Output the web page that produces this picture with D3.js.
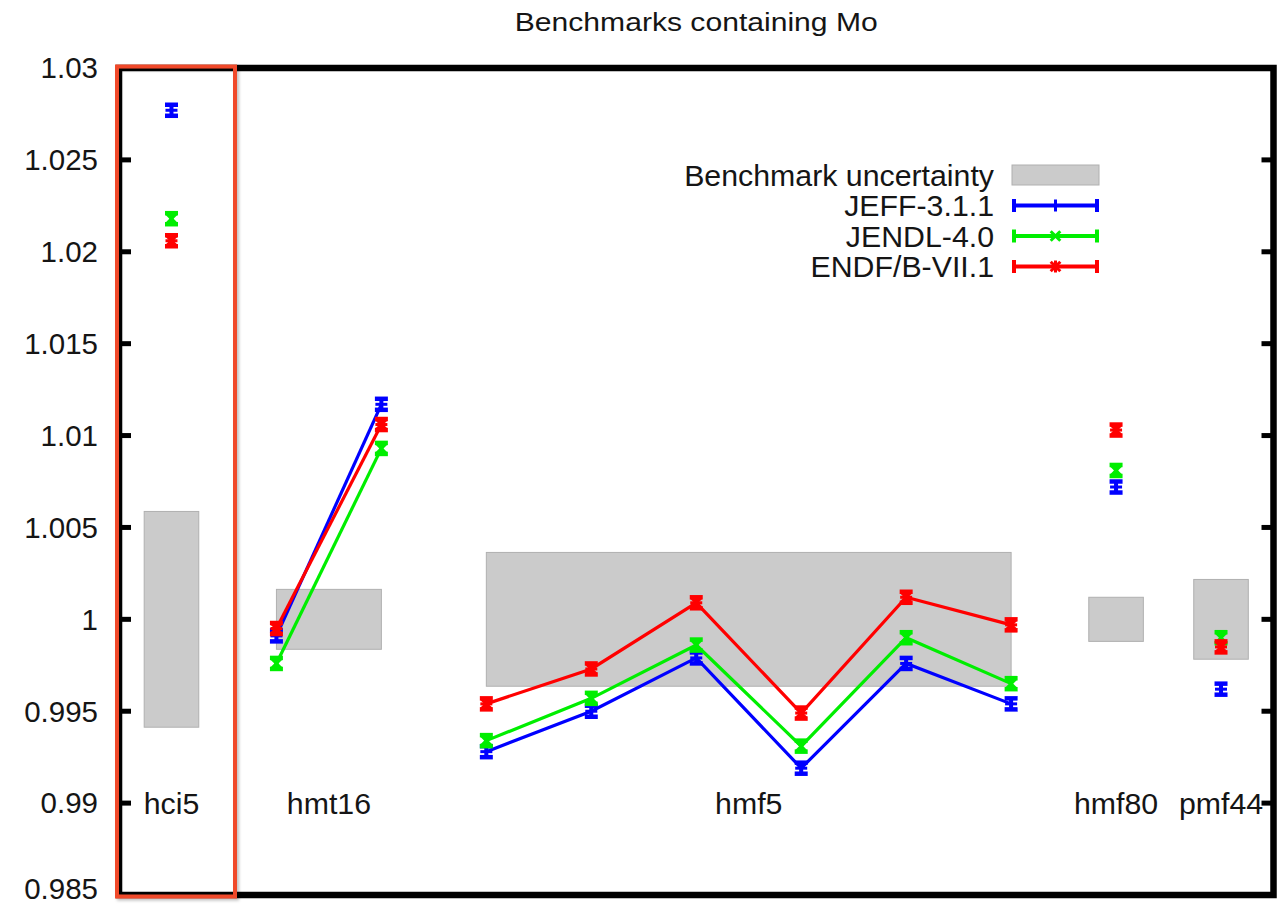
<!DOCTYPE html>
<html>
<head>
<meta charset="utf-8">
<script src="https://cdn.jsdelivr.net/npm/d3@7"></script>
<style>
  body { margin: 0; background: #fff; }
  svg { display: block; }
  text { font-family: "Liberation Sans", Arial, Helvetica, sans-serif; fill: #151515; }
</style>
</head>
<body>
<svg id="chart" width="1281" height="906"></svg>
<script>
// Benchmark cases (x index 0..10) and calculated k-eff per nuclear data library
const caseIndex = [0, 1, 2, 3, 4, 5, 6, 7, 8, 9, 10];

const jeffValues  = [1.0277, 0.9991, 1.0117, 0.9928, 0.9950, 0.9979, 0.9919, 0.9976, 0.9954, 1.0072, 0.9962];
const jendlValues = [1.0218, 0.9976, 1.0093, 0.9934, 0.9957, 0.9986, 0.9931, 0.9990, 0.9965, 1.0081, 0.9990];
const endfValues  = [1.0206, 0.9995, 1.0106, 0.9954, 0.9973, 1.0009, 0.9949, 1.0012, 0.9997, 1.0103, 0.9985];

const jeffErrors  = [0.0003, 0.0003, 0.0003, 0.0003, 0.0003, 0.0003, 0.0003, 0.0003, 0.0003, 0.0003, 0.0003];
const jendlErrors = [0.0003, 0.0003, 0.0003, 0.0003, 0.0003, 0.0003, 0.0003, 0.0003, 0.0003, 0.0003, 0.0003];
const endfErrors  = [0.0003, 0.0003, 0.0003, 0.0003, 0.0003, 0.0003, 0.0003, 0.0003, 0.0003, 0.0003, 0.0003];

// Benchmark groups: first and last case index, experimental uncertainty
const benchmarkNames  = ["hci5", "hmt16", "hmf5", "hmf80", "pmf44"];
const benchmarkFirst  = [0, 1, 3, 9, 10];
const benchmarkLast   = [0, 2, 8, 9, 10];
const benchmarkUncert = [0.00587, 0.00163, 0.00364, 0.0012, 0.00217];

const seriesNames  = ["JEFF-3.1.1", "JENDL-4.0", "ENDF/B-VII.1"];
const seriesColors = ["#0000ff", "#00ee00", "#ff0000"];
const seriesMarks  = ["plus", "cross", "star"];

const yTicks = [0.985, 0.99, 0.995, 1.0, 1.005, 1.01, 1.015, 1.02, 1.025, 1.03];

const svg = d3.select("#chart");

const x = d3.scaleLinear().domain([-0.5, 10.5]).range([119, 1273.5]);
const y = d3.scaleLinear().domain([0.985, 1.03]).range([895, 68]);

const tickFont = 29.5;
const labelFont = 30.3;

// Title
svg.append("text")
  .attr("x", (x.range()[0] + x.range()[1]) / 2)
  .attr("y", 31)
  .attr("text-anchor", "middle")
  .attr("font-size", 26)
  .attr("textLength", 363)
  .attr("lengthAdjust", "spacingAndGlyphs")
  .text("Benchmarks containing Mo");

// Benchmark uncertainty boxes
const boxes = svg.append("g");
benchmarkNames.forEach((name, i) => {
  const single = benchmarkFirst[i] === benchmarkLast[i];
  const x0 = single ? benchmarkFirst[i] - 0.26 : benchmarkFirst[i];
  const x1 = single ? benchmarkLast[i] + 0.26 : benchmarkLast[i];
  boxes.append("rect")
    .attr("x", x(x0))
    .attr("y", y(1 + benchmarkUncert[i]))
    .attr("width", x(x1) - x(x0))
    .attr("height", y(1 - benchmarkUncert[i]) - y(1 + benchmarkUncert[i]))
    .attr("fill", "#cbcbcb")
    .attr("stroke", "#b0b0b0")
    .attr("stroke-width", 1);
});

// Benchmark labels
benchmarkNames.forEach((name, i) => {
  svg.append("text")
    .attr("x", x((benchmarkFirst[i] + benchmarkLast[i]) / 2))
    .attr("y", y(0.99) + 10.5)
    .attr("text-anchor", "middle")
    .attr("font-size", labelFont)
    .text(name);
});

// Marker glyphs
function drawMark(g, kind, cx, cy, color, r) {
  const segs = [];
  if (kind === "plus" || kind === "star") {
    segs.push([cx - r, cy, cx + r, cy], [cx, cy - r, cx, cy + r]);
  }
  if (kind === "cross" || kind === "star") {
    const d = r * 0.8;
    segs.push([cx - d, cy - d, cx + d, cy + d], [cx - d, cy + d, cx + d, cy - d]);
  }
  segs.forEach(s => g.append("line")
    .attr("x1", s[0]).attr("y1", s[1]).attr("x2", s[2]).attr("y2", s[3])
    .attr("stroke", color).attr("stroke-width", 3));
}

// Series: connecting lines within each benchmark, then error bars and markers
const allValues = [jeffValues, jendlValues, endfValues];
const allErrors = [jeffErrors, jendlErrors, endfErrors];
const line = d3.line().x(d => x(d[0])).y(d => y(d[1]));

allValues.forEach((vals, s) => {
  const g = svg.append("g");
  const color = seriesColors[s];
  benchmarkNames.forEach((name, b) => {
    if (benchmarkLast[b] > benchmarkFirst[b]) {
      const pts = caseIndex
        .filter(k => k >= benchmarkFirst[b] && k <= benchmarkLast[b])
        .map(k => [k, vals[k]]);
      g.append("path")
        .attr("d", line(pts))
        .attr("fill", "none")
        .attr("stroke", color)
        .attr("stroke-width", 3.2)
        .attr("stroke-linejoin", "miter");
    }
  });
  caseIndex.forEach(k => {
    const cx = x(k);
    const yHi = y(vals[k] + allErrors[s][k]);
    const yLo = y(vals[k] - allErrors[s][k]);
    g.append("line").attr("x1", cx).attr("x2", cx).attr("y1", yHi).attr("y2", yLo)
      .attr("stroke", color).attr("stroke-width", 4);
    [yHi, yLo].forEach(cy => g.append("line")
      .attr("x1", cx - 6.5).attr("x2", cx + 6.5).attr("y1", cy).attr("y2", cy)
      .attr("stroke", color).attr("stroke-width", 4.5));
    drawMark(g, seriesMarks[s], cx, y(vals[k]), color, 6);
  });
});

// Legend
const legendTextX = 994;
const legendRowY = [175, 205.5, 236, 266.5];
const sampleX0 = 1012, sampleX1 = 1099;
svg.append("text")
  .attr("x", legendTextX).attr("y", legendRowY[0])
  .attr("dy", "0.35em")
  .attr("text-anchor", "end")
  .attr("font-size", labelFont)
  .text("Benchmark uncertainty");
svg.append("rect")
  .attr("x", sampleX0).attr("y", legendRowY[0] - 10)
  .attr("width", sampleX1 - sampleX0).attr("height", 20)
  .attr("fill", "#cbcbcb").attr("stroke", "#b0b0b0").attr("stroke-width", 1);

seriesNames.forEach((name, s) => {
  const ly = legendRowY[s + 1];
  const color = seriesColors[s];
  svg.append("text")
    .attr("x", legendTextX).attr("y", ly)
    .attr("dy", "0.35em")
    .attr("text-anchor", "end")
    .attr("font-size", labelFont)
    .text(name);
  const g = svg.append("g");
  g.append("line").attr("x1", sampleX0).attr("x2", sampleX1).attr("y1", ly).attr("y2", ly)
    .attr("stroke", color).attr("stroke-width", 4);
  [sampleX0 + 2, sampleX1 - 2].forEach(cx => g.append("line")
    .attr("x1", cx).attr("x2", cx).attr("y1", ly - 6.5).attr("y2", ly + 6.5)
    .attr("stroke", color).attr("stroke-width", 4));
  drawMark(g, seriesMarks[s], (sampleX0 + sampleX1) / 2, ly, color, 6);
});

// Y axis tick labels (the lowest one nudged up to stay inside the page)
yTicks.forEach((t, i) => {
  svg.append("text")
    .attr("x", 98)
    .attr("y", y(t) - (i === 0 ? 6 : 0))
    .attr("dy", "0.35em")
    .attr("text-anchor", "end")
    .attr("font-size", tickFont)
    .text(d3.format("")(+t.toFixed(3)));
});

// Inward ticks on both vertical sides
const tickG = svg.append("g");
yTicks.slice(1, -1).forEach(t => {
  tickG.append("line").attr("x1", x.range()[0]).attr("x2", x.range()[0] + 12)
    .attr("y1", y(t)).attr("y2", y(t)).attr("stroke", "#000").attr("stroke-width", 5);
  tickG.append("line").attr("x1", x.range()[1]).attr("x2", x.range()[1] - 12)
    .attr("y1", y(t)).attr("y2", y(t)).attr("stroke", "#000").attr("stroke-width", 5);
});

// Plot frame
svg.append("rect")
  .attr("x", x.range()[0]).attr("y", y(1.03))
  .attr("width", x.range()[1] - x.range()[0])
  .attr("height", y(0.985) - y(1.03))
  .attr("fill", "none").attr("stroke", "#000").attr("stroke-width", 6.5);

// Highlight around the hci5 column
const defs = svg.append("defs");
const f = defs.append("filter").attr("id", "shade").attr("x", "-10%").attr("y", "-5%")
  .attr("width", "130%").attr("height", "110%");
f.append("feDropShadow").attr("dx", 2).attr("dy", 2).attr("stdDeviation", 1.5)
  .attr("flood-color", "#000").attr("flood-opacity", 0.25);
svg.append("rect")
  .attr("x", 117).attr("y", 66.5)
  .attr("width", 235 - 117).attr("height", 896.5 - 66.5)
  .attr("fill", "none").attr("stroke", "#f04a2c").attr("stroke-width", 4)
  .attr("filter", "url(#shade)");
</script>
</body>
</html>
